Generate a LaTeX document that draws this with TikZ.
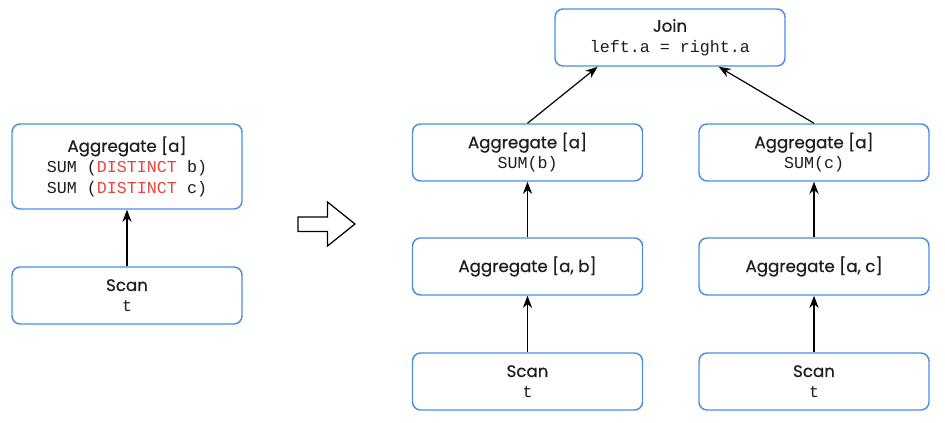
\documentclass[tikz,border=0pt]{standalone}
\usepackage{fontspec}
\setmainfont{Poppins}[FakeBold=0.5]
\setmonofont{Liberation Mono}
\usepackage{xcolor}
\usetikzlibrary{arrows.meta, positioning}
\definecolor{opblue}{HTML}{4A8FE0}
\definecolor{kwred}{HTML}{E8463A}
\definecolor{txtdark}{HTML}{1E1E1E}
\tikzset{
    opbox/.style={draw=opblue, line width=1.1pt, rounded corners=6pt, fill=white,
        minimum width=172.5pt, minimum height=42.75pt, align=center, text=txtdark,
        font=\fontsize{12.5}{15.5}\selectfont, inner sep=2pt},
    flow/.style={-{Stealth[scale=1.3]}, line width=0.9pt}
}
\newcommand{\code}[1]{{\ttfamily\fontsize{12.5}{15.5}\selectfont #1}}
\begin{document}
\begin{tikzpicture}[x=0.75pt, y=0.75pt]
        \useasboundingbox (0,0) rectangle (945,-423);

        % before
        \node[opbox, minimum height=63.75pt] at (127,-166.5) (agg) {Aggregate [a]\\
            \code{SUM (\textcolor{kwred}{DISTINCT} b)}\\
            \code{SUM (\textcolor{kwred}{DISTINCT} c)}};
        \node[opbox] at (127,-295.5) (scan) {Scan\\\code{t}};
        \draw [flow] (scan) -- (agg);

        % rewrite
        \draw [line width=0.9pt, line join=miter]
            (298,-217) -- (327.5,-217) -- (327.5,-202) -- (355,-224)
            -- (327.5,-246) -- (327.5,-231.5) -- (298,-231.5) -- cycle;

        % after
        \node[opbox] at (670,-37.5) (join) {Join\\\code{left.a = right.a}};
        \node[opbox] at (527.5,-152.5) (aggb) {Aggregate [a]\\\code{SUM(b)}};
        \node[opbox] at (814,-152.5) (aggc) {Aggregate [a]\\\code{SUM(c)}};
        \node[opbox] at (527.5,-266.5) (aggab) {Aggregate [a, b]};
        \node[opbox] at (814,-266.5) (aggac) {Aggregate [a, c]};
        \node[opbox] at (527.5,-381.5) (scanb) {Scan\\\code{t}};
        \node[opbox] at (814,-381.5) (scanc) {Scan\\\code{t}};

        \draw [flow] (scanb) -- (aggab);
        \draw [flow] (aggab) -- (aggb);
        \draw [flow] (scanc) -- (aggac);
        \draw [flow] (aggac) -- (aggc);
        \draw [flow] (aggb.north) -- (join.202);
        \draw [flow] (aggc.north) -- (join.329);
    \end{tikzpicture}
\end{document}
